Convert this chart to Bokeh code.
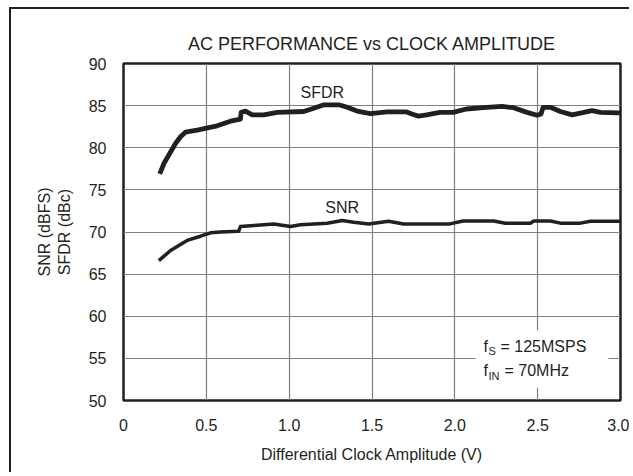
import numpy as np
from bokeh.plotting import figure
from bokeh.models import FixedTicker, Label, BoxAnnotation, LinearAxis
from bokeh.embed import file_html
from bokeh.resources import INLINE

# ---- data ----
sfdr_x = [0.219, 0.243, 0.284, 0.314, 0.344, 0.374, 0.445, 0.565, 0.646, 0.706,
          0.710, 0.736, 0.777, 0.847, 0.928, 1.088, 1.149, 1.210, 1.300, 1.350,
          1.410, 1.490, 1.590, 1.710, 1.740, 1.780, 1.830, 1.910, 1.990, 2.070,
          2.170, 2.285, 2.355, 2.436, 2.497, 2.520, 2.533, 2.577, 2.637, 2.708,
          2.758, 2.828, 2.879, 2.990, 3.000]
sfdr_y = [76.9, 78.1, 79.5, 80.5, 81.3, 81.85, 82.1, 82.6, 83.15, 83.4,
          84.2, 84.35, 83.9, 83.9, 84.2, 84.3, 84.7, 85.1, 85.1, 84.8,
          84.35, 84.05, 84.25, 84.25, 84.0, 83.75, 83.9, 84.2, 84.2, 84.6,
          84.75, 84.9, 84.75, 84.2, 83.85, 84.0, 84.8, 84.8, 84.3, 83.9,
          84.1, 84.4, 84.2, 84.15, 84.1]

snr_x = [0.213, 0.284, 0.384, 0.465, 0.525, 0.585, 0.696, 0.706, 0.787, 0.907,
         1.008, 1.068, 1.230, 1.320, 1.390, 1.480, 1.600, 1.690, 1.970, 2.050,
         2.235, 2.305, 2.456, 2.476, 2.577, 2.637, 2.758, 2.818, 3.000]
snr_y = [66.6, 67.8, 69.0, 69.5, 69.9, 70.0, 70.1, 70.65, 70.77, 70.96,
         70.65, 70.85, 71.05, 71.36, 71.16, 70.96, 71.28, 70.96, 70.96, 71.3,
         71.3, 71.05, 71.05, 71.3, 71.3, 71.05, 71.05, 71.28, 71.28]

x_ticks = [0, 0.5, 1.0, 1.5, 2.0, 2.5, 3.0]
x_tick_labels = ["0", "0.5", "1.0", "1.5", "2.0", "2.5", "3.0"]
y_ticks = [50, 55, 60, 65, 70, 75, 80, 85, 90]

FONT = "Liberation Sans"
DARK = "#231f20"

p = figure(width=620, height=465, x_range=(0, 3), y_range=(50, 90),
           output_backend="svg", toolbar_location=None,
           min_border_left=112, min_border_right=11,
           min_border_top=54, min_border_bottom=74)
p.styles = {"margin-left": "9px", "margin-top": "7px",
            "border-left": "2px solid #231f20", "border-top": "2px solid #231f20"}
p.background_fill_color = "white"
p.border_fill_color = "white"
p.outline_line_color = DARK
p.outline_line_width = 2.5

p.title.text = "AC PERFORMANCE vs CLOCK AMPLITUDE"
p.title.align = "center"
p.title.text_font = FONT
p.title.text_font_size = "18px"
p.title.text_font_style = "normal"
p.title.text_color = DARK
p.title.standoff = 20

for ax in (p.xaxis[0], p.yaxis[0]):
    ax.axis_line_color = None
    ax.major_tick_line_color = None
    ax.minor_tick_line_color = None
    ax.major_label_text_font = FONT
    ax.major_label_text_font_size = "16px"
    ax.major_label_text_color = DARK
    ax.axis_label_text_font = FONT
    ax.axis_label_text_font_size = "16px"
    ax.axis_label_text_font_style = "normal"
    ax.axis_label_text_color = DARK

p.xaxis.ticker = FixedTicker(ticks=x_ticks)
p.xaxis.major_label_overrides = {t: l for t, l in zip(x_ticks, x_tick_labels)}
p.xaxis.major_label_standoff = 12
p.xaxis.axis_label = "Differential Clock Amplitude (V)"
p.xaxis.axis_label_standoff = 12

p.yaxis.ticker = FixedTicker(ticks=y_ticks)
p.yaxis.major_label_standoff = 11
p.yaxis.axis_label = "SFDR (dBc)"
p.yaxis.axis_label_standoff = 13

ax2 = LinearAxis(ticker=FixedTicker(ticks=[]), axis_line_color=None,
                 major_tick_line_color=None, minor_tick_line_color=None,
                 axis_label="SNR (dBFS)", axis_label_standoff=0,
                 axis_label_text_font=FONT, axis_label_text_font_size="16px",
                 axis_label_text_font_style="normal", axis_label_text_color=DARK)
p.add_layout(ax2, "left")

p.xgrid.grid_line_color = "#7f7f7f"
p.ygrid.grid_line_color = "#7f7f7f"
p.xgrid.grid_line_width = 1.2
p.ygrid.grid_line_width = 1.2

# white box behind the conditions note
p.add_layout(BoxAnnotation(left=2.124, right=2.927, bottom=51.5, top=58.3,
                           fill_color="white", fill_alpha=1.0, line_color=None))

p.line(sfdr_x, sfdr_y, line_color=DARK, line_width=4.8, line_join="round")
p.line(snr_x, snr_y, line_color=DARK, line_width=3.5, line_join="round")

def lab(text, x, y, size="16px", align="center", baseline="middle", xo=0, yo=0):
    p.add_layout(Label(x=x, y=y, text=text,
                       text_font=FONT, text_font_size=size, text_color=DARK,
                       text_align=align, text_baseline=baseline,
                       x_offset=xo, y_offset=yo))

# curve names
lab("SFDR", 1.20, 86.56)
lab("SNR", 1.32, 72.9)

# conditions note
lab("f", 2.173, 56.41, align="left")
lab("S", 2.173, 56.41, align="left", size="11px", xo=5, yo=-5)
lab("= 125MSPS", 2.173, 56.41, align="left", xo=17)
lab("f", 2.173, 53.56, align="left")
lab("IN", 2.173, 53.56, align="left", size="11px", xo=5, yo=-5)
lab("= 70MHz", 2.173, 53.56, align="left", xo=21)

open("out.html", "w").write(file_html(p, INLINE))
